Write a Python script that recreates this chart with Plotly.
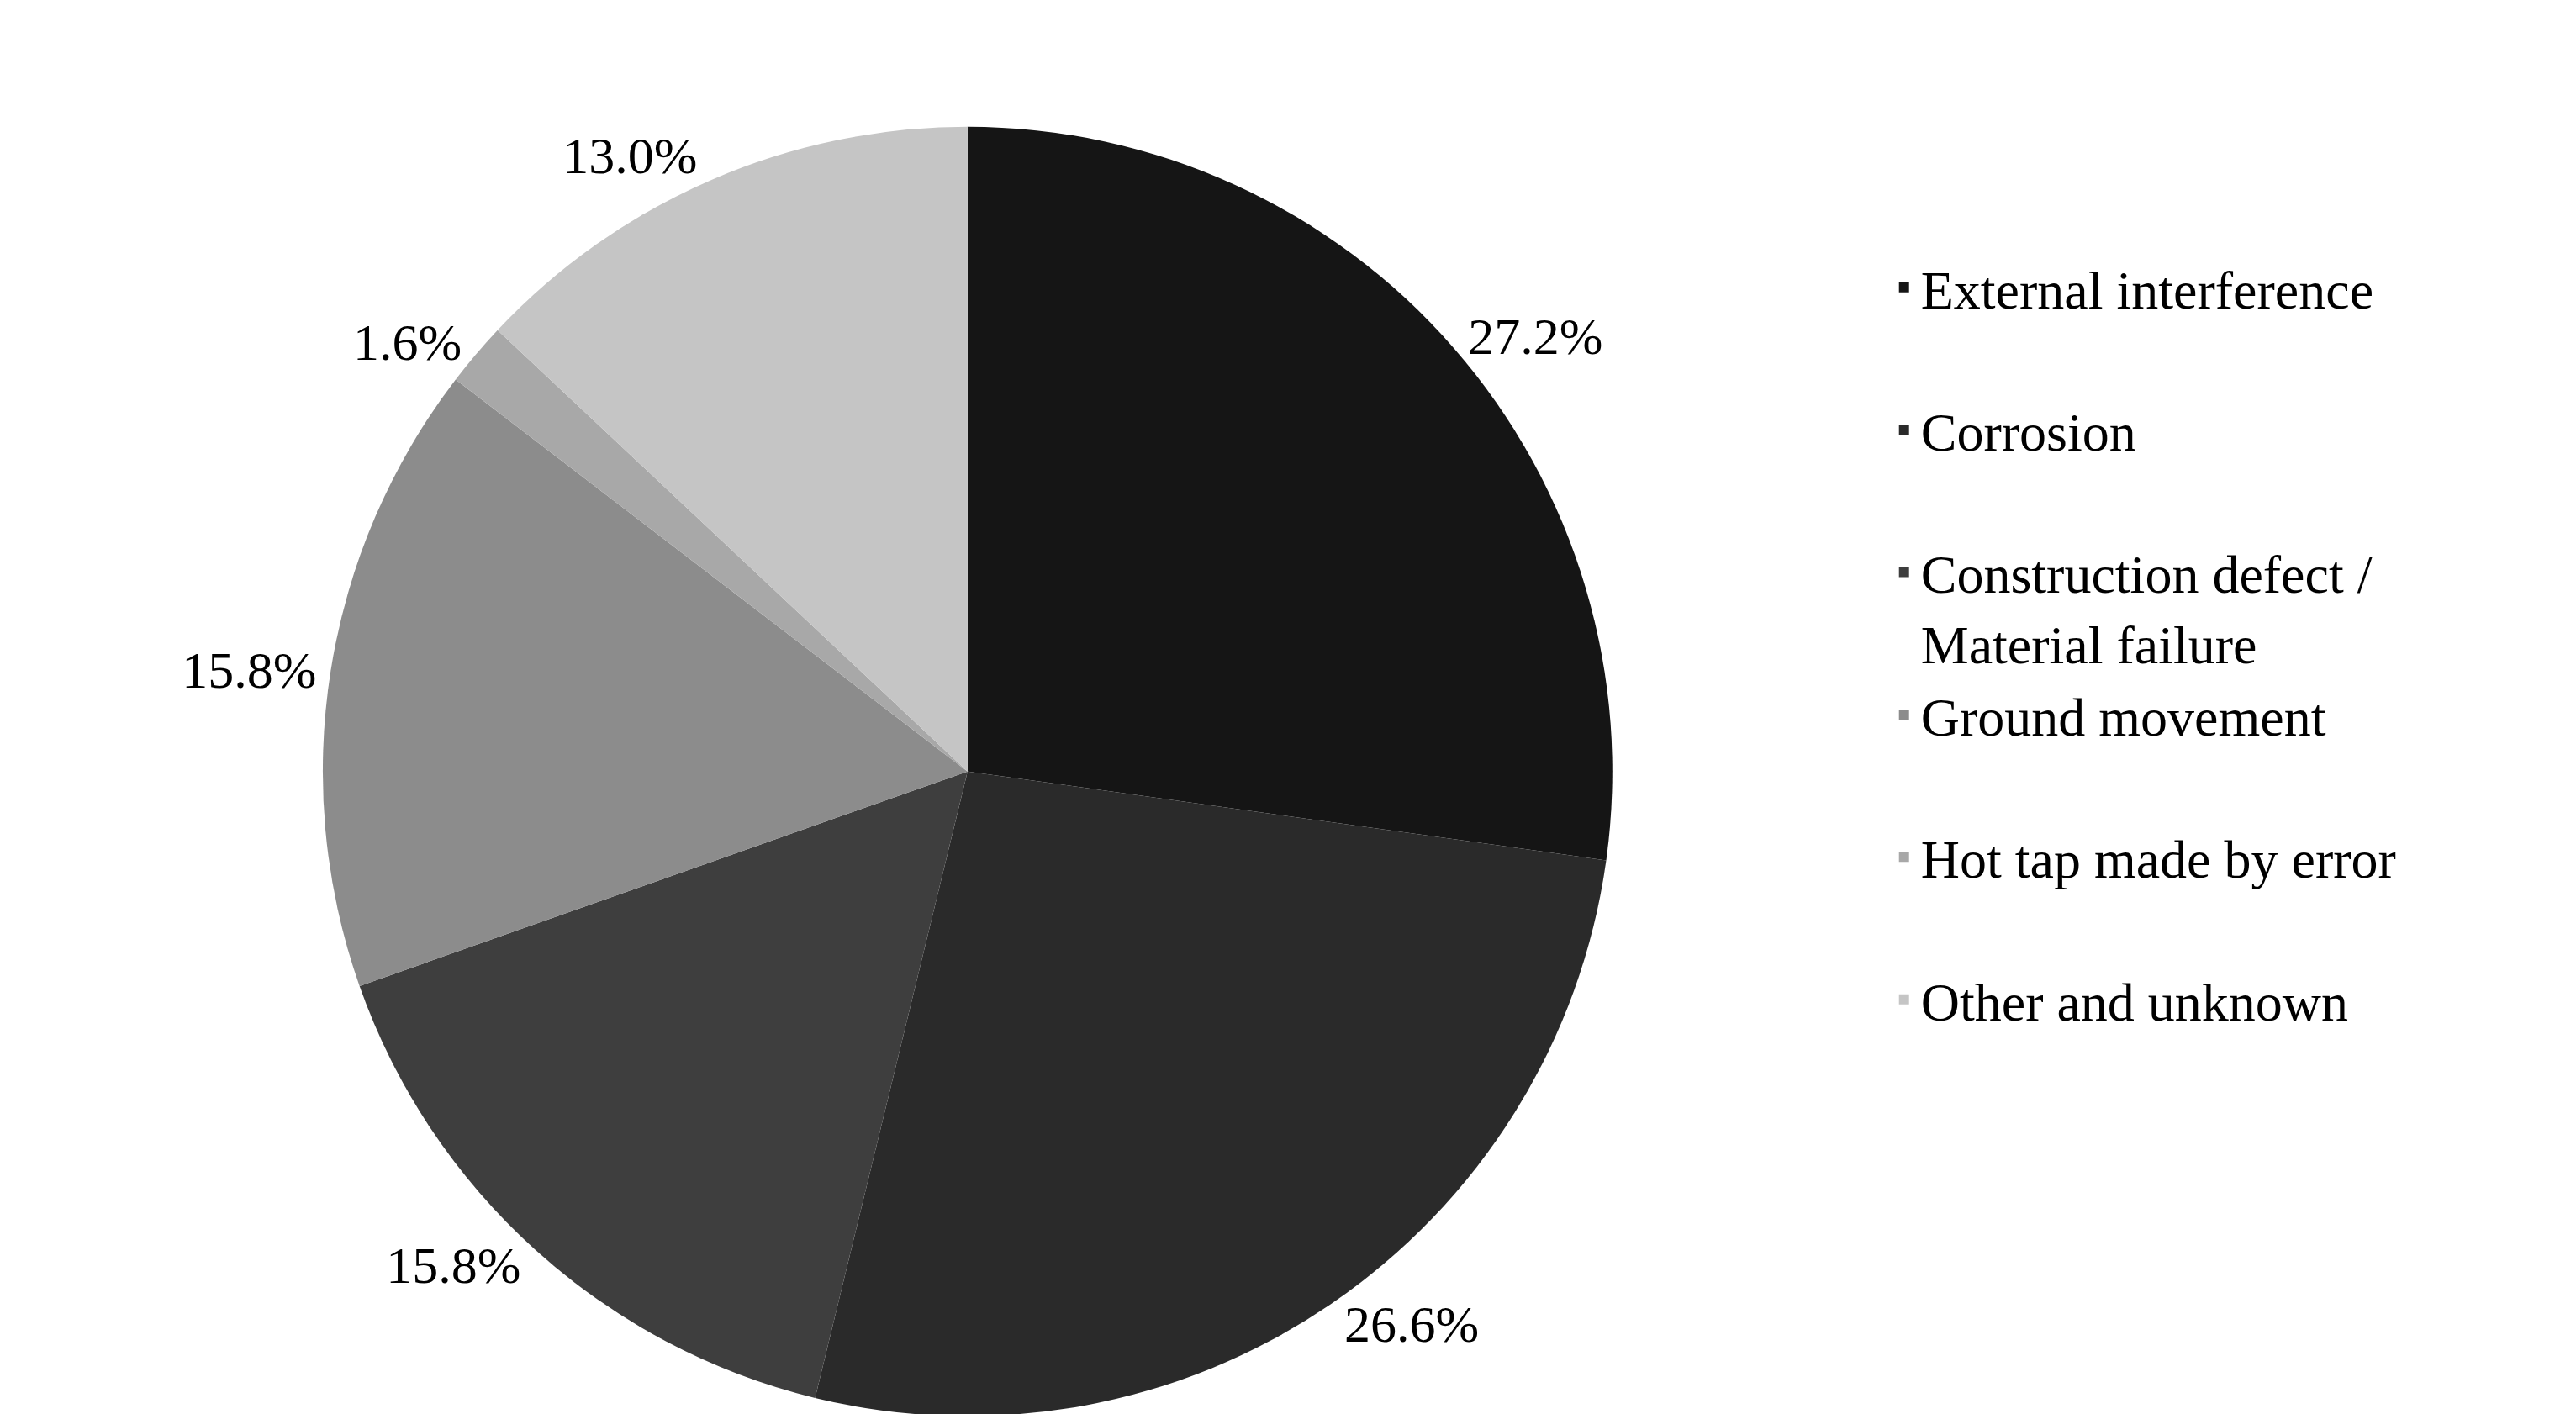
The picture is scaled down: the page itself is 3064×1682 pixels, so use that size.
import plotly.graph_objects as go

labels = ["External interference", "Corrosion", "Construction defect /<br>Material failure",
          "Ground movement", "Hot tap made by error", "Other and unknown"]
values = [27.2, 26.6, 15.8, 15.8, 1.6, 13.0]
colors = ["#151515", "#2a2a2a", "#3e3e3e", "#8c8c8c", "#a8a8a8", "#c5c5c5"]

legend_labels = [l if "<br>" in l else l + "<br> " for l in labels]

fig = go.Figure(go.Pie(
    labels=legend_labels, values=values, sort=False, direction="clockwise", rotation=0,
    marker=dict(colors=colors, line=dict(width=0)),
    textposition="outside", texttemplate="%{value:.1f}%",
    textfont=dict(size=62, color="black", family="Liberation Serif"),
    domain=dict(x=[0.121, 0.625], y=[0.002, 0.915]),
))
fig.update_layout(
    width=3064, height=1682, margin=dict(l=0, r=0, t=0, b=0),
    paper_bgcolor="white", font=dict(family="Liberation Serif", color="black"),
    legend=dict(x=0.73, y=0.83, xanchor="left", yanchor="top", valign="top",
                font=dict(size=64, family="Liberation Serif"), itemwidth=30),
)
fig.write_html("out.html")
